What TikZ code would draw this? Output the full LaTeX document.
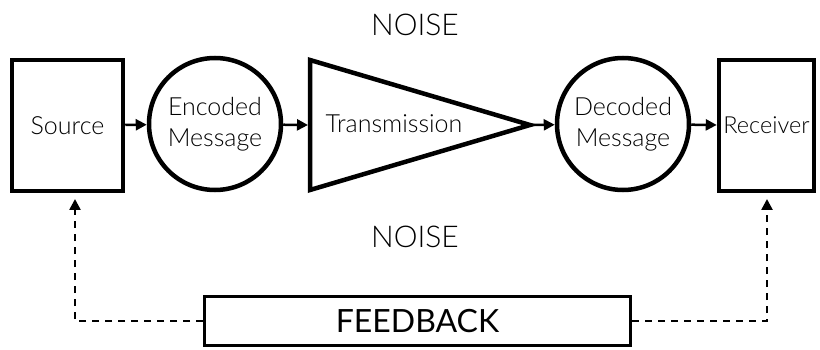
\documentclass[tikz,border=0pt]{standalone}
\usepackage{fontspec}
\setmainfont{Lato Light}
\newfontfamily\boxfont{Lato}
\usetikzlibrary{arrows.meta}
\begin{document}
\begin{tikzpicture}[x=1pt,y=-1pt,>={Triangle[length=11pt,width=11pt]}]
 \tikzstyle{blockbox} = [draw=black,line width=4.5pt,inner sep=0pt,font=\fontsize{25}{30}\selectfont]
 \tikzstyle{msgnode} = [draw=black,line width=4.5pt,circle,minimum size=132pt,inner sep=0pt,align=center,font=\fontsize{25}{31}\selectfont]
 \tikzstyle{noiselabel} = [font=\fontsize{30}{34}\selectfont]
 \tikzstyle{flow} = [line width=2.5pt,->]
 \tikzstyle{feedflow} = [line width=2.5pt,->,dash pattern=on 7pt off 6pt]

  \useasboundingbox (0,0) rectangle (820,350);

  % Main chain
  \node[blockbox,minimum width=111pt,minimum height=131pt] (source) at (67.5,125.5) {Source};
  \node[msgnode] (enc) at (215,124) {Encoded\\Message};
  \coordinate (t1) at (310,60);
  \coordinate (t2) at (310,190);
  \coordinate (tip) at (530,125);
  \draw[line width=4.5pt,line join=miter] (t1) -- (tip) -- (t2) -- cycle;
  \node[font=\fontsize{25}{30}\selectfont] (trans) at (394,124) {Transmission};
  \coordinate (tin) at (308,125);
  \node[msgnode] (dec) at (623,124) {Decoded\\Message};
  \node[blockbox,minimum width=95pt,minimum height=131pt,font=\fontsize{23.5}{28}\selectfont] (recv) at (766.5,125.5) {Receiver};

  \draw[flow] (source) -- (enc);
  \draw[flow] (enc) -- (tin);
  \draw[flow] (tip) -- (dec);
  \draw[flow] (dec) -- (recv);

  % Noise labels
  \node[noiselabel] (noisetop) at (415,25) {NOISE};
  \node[noiselabel] (noisebot) at (415,237) {NOISE};

  % Feedback loop
  \node[draw=black,line width=3pt,minimum width=426pt,minimum height=49pt,inner sep=0pt,
        font=\boxfont\fontsize{32}{36}\selectfont] (feed) at (417.5,321) {FEEDBACK};
  \coordinate (fl) at (75,321);
  \coordinate (fr) at (767,321);
  \coordinate (sl) at (75,199);
  \coordinate (sr) at (767,199);
  \draw[feedflow] (feed.west) -- (fl) -- (sl);
  \draw[feedflow] (feed.east) -- (fr) -- (sr);

\end{tikzpicture}
\end{document}
